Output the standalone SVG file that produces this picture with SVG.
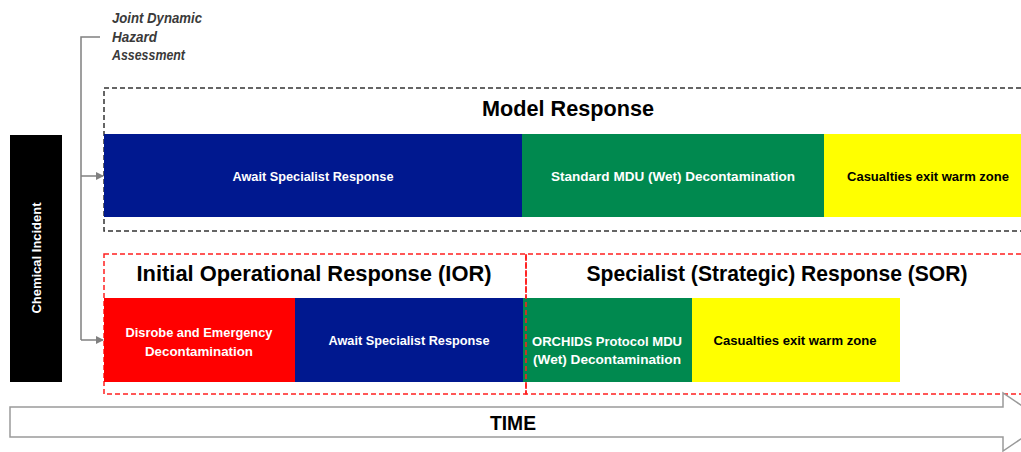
<svg xmlns="http://www.w3.org/2000/svg" width="1021" height="452" viewBox="0 0 1021 452">
<style>
.bar{stroke:none}
.lbl{font-family:"Liberation Sans",Arial,sans-serif;font-weight:bold;font-size:13.5px;text-anchor:middle;fill:#fff}
.dk{fill:#000}
.title{font-family:"Liberation Sans",Arial,sans-serif;font-weight:bold;font-size:22.5px;text-anchor:middle;fill:#000}
.conn{fill:none;stroke:#808080;stroke-width:1.5}
.blkdash{fill:none;stroke:#333;stroke-width:1.5;stroke-dasharray:5 3}
.reddash{fill:none;stroke:#ff2020;stroke-width:1.5;stroke-dasharray:5 3}
</style>
<defs>
<marker id="ah" markerWidth="8" markerHeight="8" refX="7" refY="4" orient="auto" markerUnits="userSpaceOnUse">
<path d="M0,0 L8,4 L0,8 z" fill="#808080"/>
</marker>
</defs>
<rect width="1021" height="452" fill="#fff"/>

<g id="chemical-incident">
<rect x="10" y="135" width="52" height="247" fill="#000"/>
<text class="lbl" transform="translate(41,258) rotate(-90)" textLength="111" lengthAdjust="spacingAndGlyphs">Chemical Incident</text>
</g>

<g id="jdha">
<text font-family="Liberation Sans,Arial,sans-serif" font-weight="bold" font-style="italic" font-size="14" fill="#3a3a3a">
<tspan x="112" y="23" textLength="90" lengthAdjust="spacingAndGlyphs">Joint Dynamic</tspan>
<tspan x="112" y="42" textLength="45" lengthAdjust="spacingAndGlyphs">Hazard</tspan>
<tspan x="112" y="60" textLength="73" lengthAdjust="spacingAndGlyphs">Assessment</tspan>
</text>
</g>

<g id="model-response">
<path class="blkdash" d="M1021,88 H104 V231 H1021"/>
<text class="title" x="568" y="116" textLength="172" lengthAdjust="spacingAndGlyphs">Model Response</text>
</g>
<g id="model-await">
<rect class="bar" x="104" y="134" width="418" height="83" fill="#00188f"/>
<text class="lbl" x="313" y="181" textLength="161" lengthAdjust="spacingAndGlyphs">Await Specialist Response</text>
</g>
<g id="model-standard">
<rect class="bar" x="522" y="134" width="302" height="83" fill="#00894f"/>
<text class="lbl" x="673" y="181" textLength="244" lengthAdjust="spacingAndGlyphs">Standard MDU (Wet) Decontamination</text>
</g>
<g id="model-exit">
<rect class="bar" x="824" y="134" width="197" height="83" fill="#ffff00"/>
<text class="lbl dk" x="928" y="181" textLength="162" lengthAdjust="spacingAndGlyphs">Casualties exit warm zone</text>
</g>

<g id="ior">
<rect class="reddash" x="104" y="254" width="422" height="140"/>
<text class="title" x="314" y="281" textLength="355" lengthAdjust="spacingAndGlyphs">Initial Operational Response (IOR)</text>
</g>
<g id="sor">
<path class="reddash" d="M1021,254 H526 V394 H1021"/>
<text class="title" x="777" y="281" textLength="381" lengthAdjust="spacingAndGlyphs">Specialist (Strategic) Response (SOR)</text>
</g>
<g id="ior-disrobe">
<rect class="bar" x="104" y="298" width="191" height="84" fill="#ff0000"/>
<text class="lbl" x="199" y="337" textLength="147" lengthAdjust="spacingAndGlyphs">Disrobe and Emergency</text>
<text class="lbl" x="199" y="356" textLength="108" lengthAdjust="spacingAndGlyphs">Decontamination</text>
</g>
<g id="ior-await">
<rect class="bar" x="295" y="298" width="228" height="84" fill="#00188f"/>
<text class="lbl" x="409" y="345" textLength="161" lengthAdjust="spacingAndGlyphs">Await Specialist Response</text>
</g>
<g id="sor-orchids">
<rect class="bar" x="523" y="298" width="169" height="84" fill="#00894f"/>
<text class="lbl" x="607" y="346" textLength="150" lengthAdjust="spacingAndGlyphs">ORCHIDS Protocol MDU</text>
<text class="lbl" x="607" y="364" textLength="148" lengthAdjust="spacingAndGlyphs">(Wet) Decontamination</text>
</g>
<g id="sor-exit">
<rect class="bar" x="692" y="298" width="208" height="84" fill="#ffff00"/>
<text class="lbl dk" x="795" y="345" textLength="163" lengthAdjust="spacingAndGlyphs">Casualties exit warm zone</text>
</g>
<path class="reddash" d="M526,254 V394"/>

<g id="connectors">
<path class="conn" d="M100,37 H81 V340"/>
<path class="conn" d="M81,176 H103" marker-end="url(#ah)"/>
<path class="conn" d="M81,340 H103" marker-end="url(#ah)"/>
</g>

<g id="time">
<path d="M10,407 H1003 V393 L1046,422 L1003,451 V437 H10 Z" fill="#fff" stroke="#9a9a9a" stroke-width="1.5"/>
<text x="513" y="430" font-family="Liberation Sans,Arial,sans-serif" font-weight="bold" font-size="20" text-anchor="middle" fill="#000" textLength="46" lengthAdjust="spacingAndGlyphs">TIME</text>
</g>
</svg>
